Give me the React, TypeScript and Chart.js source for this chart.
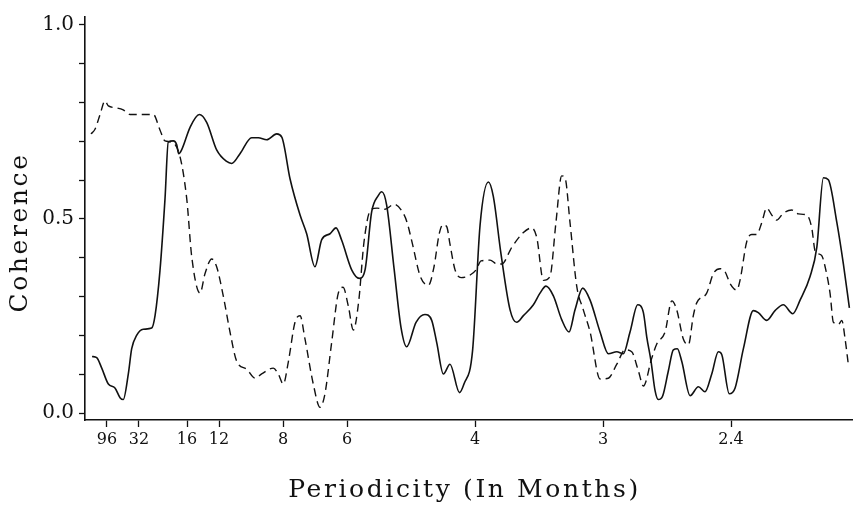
import React, { useEffect, useRef } from "react";
import { Chart, registerables } from "chart.js";

Chart.register(...registerables);

// Frequency in cycles per month (x), coherence (y)
const solidFreq = [
  0.0007, 0.0037, 0.007, 0.0113, 0.0156, 0.0189, 0.021, 0.0243, 0.0265, 0.0298,
  0.034, 0.0395, 0.0417, 0.0449, 0.0482, 0.0503, 0.0536, 0.0558, 0.0571, 0.059,
  0.0645, 0.0705, 0.0753, 0.0818, 0.0883, 0.0916, 0.097, 0.1046, 0.1089, 0.1144,
  0.1209, 0.1242, 0.1296, 0.1361, 0.1404, 0.1458, 0.1502, 0.1556, 0.1595, 0.1632,
  0.1697, 0.1747, 0.1784, 0.1827, 0.187, 0.1893, 0.1925, 0.1973, 0.2018, 0.2055,
  0.2116, 0.2174, 0.2218, 0.2251, 0.2294, 0.2337, 0.2399, 0.2428, 0.2484, 0.2533,
  0.2587, 0.2619, 0.2669, 0.2728, 0.2771, 0.2815, 0.288, 0.2923, 0.2962, 0.301,
  0.3064, 0.3112, 0.3151, 0.3201, 0.3249, 0.3314, 0.3368, 0.3423, 0.3465, 0.3509,
  0.3559, 0.3596, 0.3618, 0.3646, 0.3672, 0.3693, 0.3722, 0.3758, 0.3791, 0.3817,
  0.3846, 0.39, 0.3954, 0.3997, 0.4041, 0.4084, 0.4106, 0.4155, 0.4193, 0.4247,
  0.4312, 0.4344, 0.4399, 0.4453, 0.4507, 0.4568, 0.4616, 0.4681, 0.4725, 0.4768,
  0.48, 0.4855, 0.4898, 0.4937,
];
const solidCoh = [
  0.146, 0.143, 0.116, 0.075, 0.065, 0.04, 0.035, 0.101, 0.166, 0.201,
  0.216, 0.219, 0.251, 0.367, 0.553, 0.698, 0.701, 0.691, 0.668, 0.678,
  0.736, 0.769, 0.749, 0.678, 0.648, 0.643, 0.668, 0.709, 0.709, 0.704,
  0.719, 0.711, 0.603, 0.51, 0.462, 0.377, 0.447, 0.462, 0.477, 0.445,
  0.369, 0.347, 0.369, 0.518, 0.56, 0.57, 0.535, 0.372, 0.221, 0.171,
  0.234, 0.254, 0.239, 0.181, 0.101, 0.126, 0.053, 0.075, 0.161, 0.485,
  0.595, 0.558, 0.41, 0.266, 0.234, 0.251, 0.279, 0.309, 0.327, 0.302,
  0.241, 0.209, 0.266, 0.322, 0.291, 0.209, 0.153, 0.158, 0.153, 0.209,
  0.279, 0.259, 0.196, 0.133, 0.058, 0.035, 0.045, 0.108, 0.163, 0.166,
  0.133, 0.045, 0.068, 0.055, 0.101, 0.158, 0.151, 0.05, 0.065, 0.166,
  0.264, 0.259, 0.239, 0.264, 0.279, 0.256, 0.291, 0.352, 0.427, 0.606,
  0.601, 0.492, 0.384, 0.271,
];

const dashedFreq = [
  0.0, 0.0026, 0.0059, 0.0091, 0.0113, 0.0167, 0.021, 0.0254, 0.0319, 0.0406,
  0.0449, 0.0482, 0.0525, 0.0579, 0.0623, 0.0656, 0.071, 0.0742, 0.0786, 0.0818,
  0.0861, 0.0905, 0.0949, 0.1014, 0.1068, 0.1111, 0.1187, 0.1219, 0.1252, 0.1285,
  0.1328, 0.1361, 0.1393, 0.1447, 0.1491, 0.1523, 0.1567, 0.161, 0.1641, 0.1675,
  0.1708, 0.1743, 0.1777, 0.182, 0.1862, 0.1914, 0.1973, 0.2028, 0.2057, 0.2093,
  0.2142, 0.2196, 0.2233, 0.2266, 0.229, 0.2316, 0.2337, 0.237, 0.2409, 0.2461,
  0.2507, 0.2539, 0.2598, 0.2643, 0.2674, 0.2739, 0.2815, 0.2869, 0.2902, 0.2945,
  0.2988, 0.3027, 0.3064, 0.3086, 0.3118, 0.3162, 0.3205, 0.3249, 0.3314, 0.3368,
  0.3423, 0.3477, 0.352, 0.3564, 0.3596, 0.365, 0.3683, 0.3737, 0.3781, 0.3813,
  0.3856, 0.3889, 0.3921, 0.3943, 0.4008, 0.4051, 0.4095, 0.4128, 0.416, 0.4204,
  0.4225, 0.4269, 0.4301, 0.4334, 0.4366, 0.4399, 0.4432, 0.4464, 0.4507, 0.4562,
  0.4605, 0.466, 0.4692, 0.4714, 0.4736, 0.4758, 0.4779, 0.4811, 0.4833, 0.4866,
  0.4888, 0.4909, 0.493,
];
const dashedCoh = [
  0.719, 0.731, 0.769, 0.804, 0.791, 0.786, 0.781, 0.769, 0.769, 0.769,
  0.729, 0.701, 0.698, 0.661, 0.553, 0.402, 0.309, 0.359, 0.397, 0.377,
  0.302, 0.209, 0.133, 0.113, 0.09, 0.101, 0.116, 0.101, 0.075, 0.133,
  0.234, 0.251, 0.191, 0.075, 0.015, 0.05, 0.183, 0.309, 0.324, 0.276,
  0.214, 0.289, 0.44, 0.523, 0.528, 0.525, 0.538, 0.518, 0.492, 0.435,
  0.354, 0.329, 0.377, 0.46, 0.485, 0.48, 0.435, 0.369, 0.349, 0.354,
  0.369, 0.392, 0.394, 0.384, 0.384, 0.427, 0.465, 0.477, 0.452, 0.342,
  0.352, 0.492, 0.611, 0.606, 0.492, 0.327, 0.266, 0.209, 0.088, 0.09,
  0.126, 0.163, 0.158, 0.108, 0.07, 0.141, 0.178, 0.209, 0.289, 0.266,
  0.191, 0.176, 0.251, 0.284, 0.309, 0.359, 0.372, 0.364, 0.334, 0.317,
  0.342, 0.442, 0.46, 0.46, 0.49, 0.528, 0.51, 0.497, 0.515, 0.523,
  0.513, 0.51, 0.477, 0.417, 0.41, 0.405, 0.377, 0.309, 0.234, 0.229,
  0.239, 0.191, 0.126,
];

const periodValues = [96, 32, 16, 12, 8, 6, 4, 3, 2.4];
const periodLabels = ["96", "32", "16", "12", "8", "6", "4", "3", "2.4"];
const yTickValues = [0, 0.1, 0.2, 0.3, 0.4, 0.5, 0.6, 0.7, 0.8, 0.9, 1.0];
const yLabelValues = [0, 0.5, 1.0];
const xTitle = "Periodicity (In Months)";
const yTitle = "Coherence";

const INK = "#111111";
const SERIF = '"DejaVu Serif", serif';

const titlePlugin = {
  id: "axisTitles",
  afterDraw(chart: any) {
    const ctx = chart.ctx as CanvasRenderingContext2D;
    const a = chart.chartArea;
    ctx.save();
    ctx.fillStyle = INK;
    ctx.font = `25px ${SERIF}`;
    (ctx as any).letterSpacing = "2.6px";
    ctx.textAlign = "center";
    ctx.textBaseline = "middle";
    ctx.fillText(xTitle, (a.left + a.right) / 2 - 4, 490);
    ctx.translate(20, (a.top + a.bottom) / 2 + 14);
    ctx.rotate(-Math.PI / 2);
    ctx.fillText(yTitle, 0, 0);
    ctx.restore();
  },
};

export default function App() {
  const ref = useRef<HTMLCanvasElement | null>(null);

  useEffect(() => {
    if (!ref.current) return;
    const solid = solidFreq.map((f, i) => ({ x: f, y: solidCoh[i] }));
    const dashed = dashedFreq.map((f, i) => ({ x: f, y: dashedCoh[i] }));
    const chart = new Chart(ref.current, {
      type: "line",
      data: {
        datasets: [
          {
            label: "solid",
            data: solid,
            borderColor: INK,
            borderWidth: 1.6,
            pointRadius: 0,
            cubicInterpolationMode: "monotone",
            fill: false,
          },
          {
            label: "dashed",
            data: dashed,
            borderColor: INK,
            borderWidth: 1.4,
            borderDash: [8, 5],
            pointRadius: 0,
            cubicInterpolationMode: "monotone",
            fill: false,
          },
        ],
      },
      options: {
        responsive: false,
        animation: false,
        layout: { padding: { top: 7, right: 1, left: 0, bottom: 0 } },
        plugins: {
          legend: { display: false },
          tooltip: { enabled: false },
          title: { display: false },
        },
        scales: {
          x: {
            type: "linear",
            min: -0.0039,
            max: 0.4954,
            afterFit: (s: any) => {
              s.height = 88;
            },
            afterBuildTicks: (s: any) => {
              s.ticks = periodValues.map((p) => ({ value: 1 / p }));
            },
            ticks: {
              color: INK,
              font: { family: SERIF, size: 16 },
              padding: 3,
              maxRotation: 0,
              autoSkip: false,
              callback: (_v: any, i: number) => periodLabels[i],
            },
            grid: {
              display: true,
              drawOnChartArea: false,
              drawTicks: true,
              tickLength: 7,
              tickColor: INK,
              tickWidth: 1.3,
            },
            border: { display: true, color: INK, width: 1.6 },
          },
          y: {
            type: "linear",
            min: -0.0176,
            max: 1.02,
            afterFit: (s: any) => {
              s.width = 85;
            },
            afterBuildTicks: (s: any) => {
              s.ticks = yTickValues.map((v) => ({ value: v }));
            },
            ticks: {
              color: INK,
              font: { family: SERIF, size: 20 },
              padding: 5,
              autoSkip: false,
              callback: (v: any) => {
                const n = Number(v);
                return yLabelValues.some((l) => Math.abs(l - n) < 1e-6) ? n.toFixed(1) : "";
              },
            },
            grid: {
              display: true,
              drawOnChartArea: false,
              drawTicks: true,
              tickLength: 6,
              tickColor: INK,
              tickWidth: 1.3,
            },
            border: { display: true, color: INK, width: 1.6 },
          },
        },
      },
      plugins: [titlePlugin],
    });
    return () => chart.destroy();
  }, []);

  return (
    <div style={{ position: "absolute", left: 0, top: 0, width: 853, height: 508, background: "#fff" }}>
      <canvas ref={ref} width={853} height={508} style={{ display: "block" }} />
    </div>
  );
}
